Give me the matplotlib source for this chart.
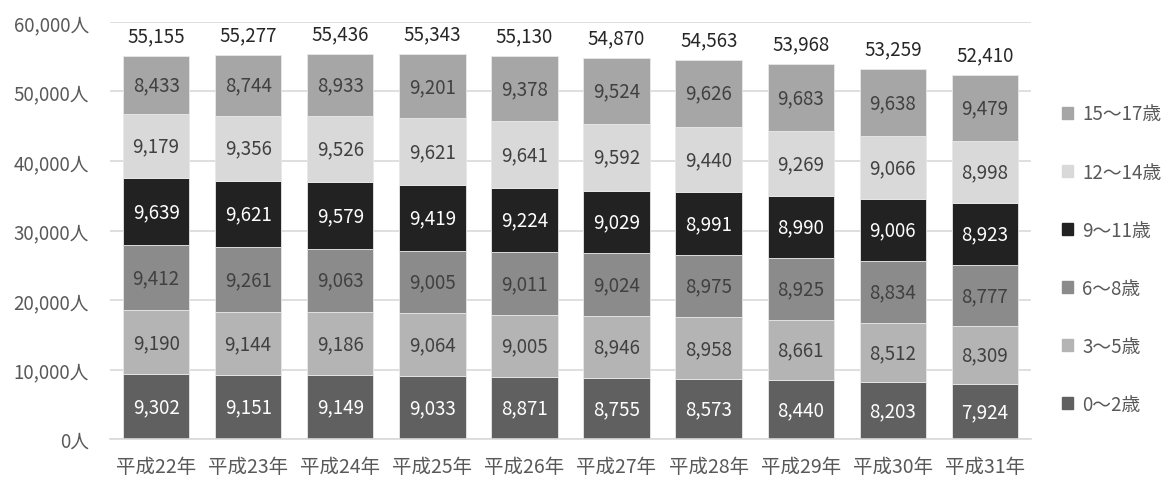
import matplotlib
matplotlib.use("Agg")
from matplotlib import pyplot as plt
from matplotlib.ticker import FuncFormatter
import matplotlib.patches as mpatches
import numpy as np

plt.rcParams['font.family'] = ['Noto Sans CJK JP', 'DejaVu Sans']

# data
years = ['平成22年', '平成23年', '平成24年', '平成25年', '平成26年',
         '平成27年', '平成28年', '平成29年', '平成30年', '平成31年']
groups = ['0～2歳', '3～5歳', '6～8歳', '9～11歳', '12～14歳', '15～17歳']
age_0_2 = [9302, 9151, 9149, 9033, 8871, 8755, 8573, 8440, 8203, 7924]
age_3_5 = [9190, 9144, 9186, 9064, 9005, 8946, 8958, 8661, 8512, 8309]
age_6_8 = [9412, 9261, 9063, 9005, 9011, 9024, 8975, 8925, 8834, 8777]
age_9_11 = [9639, 9621, 9579, 9419, 9224, 9029, 8991, 8990, 9006, 8923]
age_12_14 = [9179, 9356, 9526, 9621, 9641, 9592, 9440, 9269, 9066, 8998]
age_15_17 = [8433, 8744, 8933, 9201, 9378, 9524, 9626, 9683, 9638, 9479]
totals = [55155, 55277, 55436, 55343, 55130, 54870, 54563, 53968, 53259, 52410]

series = [age_0_2, age_3_5, age_6_8, age_9_11, age_12_14, age_15_17]
colors = ['#606060', '#b4b4b4', '#8b8b8b', '#222222', '#d9d9d9', '#a6a6a6']
text_colors = ['white', '#404040', '#404040', 'white', '#404040', '#404040']

fig = plt.figure(figsize=(11.68, 4.81), dpi=100)
ax = fig.add_axes([0.0942, 0.0852, 0.7885, 0.8670])

x = np.arange(len(years))
bottom = np.zeros(len(years))
for vals, col, tcol in zip(series, colors, text_colors):
    vals = np.array(vals)
    ax.bar(x, vals, 0.72, bottom=bottom, color=col, edgecolor='#e8e8e8',
           linewidth=0.6, zorder=2)
    for xi, b, v in zip(x, bottom, vals):
        ax.text(xi, b + v / 2, f'{v:,}', ha='center', va='center',
                fontsize=13.5, color=tcol, zorder=3)
    bottom = bottom + vals

# totals above bars
for xi, t in zip(x, totals):
    ax.text(xi, t + 2900, f'{t:,}', ha='center', va='center',
            fontsize=13.5, color='#262626', zorder=3)

ax.set_xlim(-0.5, len(years) - 0.5)
ax.set_ylim(0, 60000)
ax.set_yticks(np.arange(0, 60001, 10000))
ax.yaxis.set_major_formatter(FuncFormatter(lambda v, p: f'{int(v):,}人'))
ax.set_xticks(x)
ax.set_xticklabels(years)
ax.tick_params(axis='both', length=0, labelsize=13.5, colors='#595959')
ax.tick_params(axis='x', labelsize=14, pad=12)
ax.tick_params(axis='y', pad=15)
ax.yaxis.grid(True, color='#d9d9d9', linewidth=1.2, zorder=0)
ax.set_axisbelow(True)
for s in ['top', 'right', 'left']:
    ax.spines[s].set_visible(False)
ax.spines['bottom'].set_color('#d9d9d9')
ax.spines['bottom'].set_linewidth(1.2)

# legend (top to bottom: oldest group first)
handles = [mpatches.Patch(color=c, label=g) for g, c in zip(groups, colors)][::-1]
leg = fig.legend(handles=handles, loc='center left', bbox_to_anchor=(0.909, 0.459),
                 frameon=False, fontsize=13.5, labelspacing=1.98,
                 handlelength=0.6, handleheight=0.6, handletextpad=0.5,
                 borderpad=0, borderaxespad=0)
for t in leg.get_texts():
    t.set_color('#595959')

fig.savefig('out.png', dpi=100)
